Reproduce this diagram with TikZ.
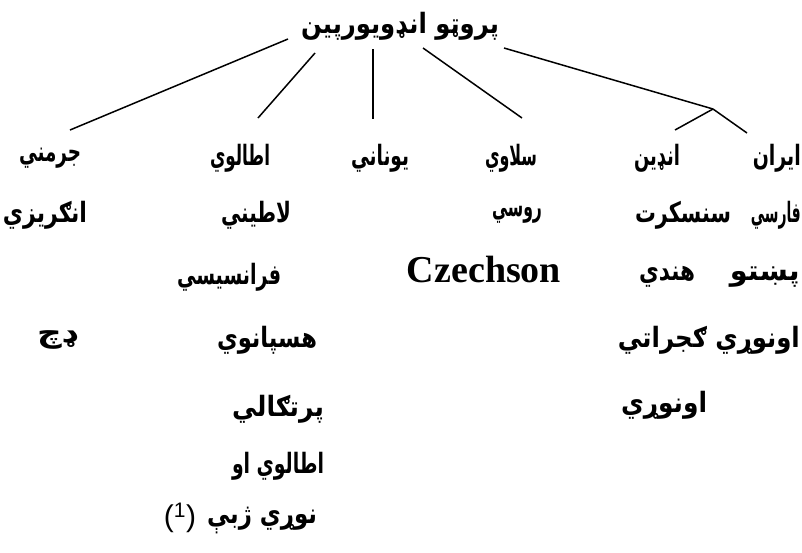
\documentclass[tikz,border=0pt]{standalone}
\usepackage{fontspec}
\usepackage{graphicx}
\TeXXeTstate=1
\newfontfamily\arfont[Script=Arabic]{DejaVu Sans}
\newfontfamily\czfont{Liberation Serif}
\newfontfamily\latfont{Liberation Sans}
\newcommand\arw[2]{\resizebox{#1pt}{\height}{\arfont\bfseries\fontsize{28}{32}\selectfont #2}}
\begin{document}
\begin{tikzpicture}[x=1pt,y=-1pt,
  lbl/.style={inner sep=0pt},
  link/.style={line width=1.5pt}]
\useasboundingbox (0,0) rectangle (802,552);
% title
\node[lbl] (top) at (400,26) {\arw{198}{\beginR پروټو انډويورپين\endR}};
% row 1
\node[lbl,anchor=east] (iran) at (801,158) {\arw{48}{\beginR ايران\endR}};
\node[lbl] (indian) at (657,158) {\arw{46}{\beginR انډين\endR}};
\node[lbl] (slavi) at (511,158) {\arw{52}{\beginR سلاوي\endR}};
\node[lbl] (yunani) at (380,158) {\arw{58}{\beginR يوناني\endR}};
\node[lbl] (italvi) at (240,158) {\arw{60}{\beginR اطالوي\endR}};
\node[lbl] (jarmani) at (50,158) {\arw{62}{\beginR جرمني\endR}};
% row 2
\node[lbl,anchor=east] (farsi) at (801,215) {\arw{50}{\beginR فارسي\endR}};
\node[lbl] (sanskrit) at (683,215) {\arw{96}{\beginR سنسکرت\endR}};
\node[lbl] (rusi) at (517,215) {\arw{50}{\beginR روسي\endR}};
\node[lbl] (latini) at (256,215) {\arw{70}{\beginR لاطيني\endR}};
\node[lbl] (angrizi) at (45,215) {\arw{84}{\beginR انګريزي\endR}};
% row 3
\node[lbl,anchor=east] (pashto) at (800,277) {\arw{70}{\beginR پښتو\endR}};
\node[lbl] (hindi) at (667,277) {\arw{56}{\beginR هندي\endR}};
\node[inner sep=0pt,anchor=base,font=\czfont\bfseries\fontsize{38}{44}\selectfont] (czech) at (484,282) {Czechson};
\node[lbl] (faransisi) at (229,277) {\arw{104}{\beginR فرانسيسي\endR}};
% row 4
\node[lbl,anchor=east] (gujarati) at (800,340) {\arw{182}{\beginR اونوړي ګجراتي\endR}};
\node[lbl] (hispanavi) at (267,340) {\arw{100}{\beginR هسپانوي\endR}};
\node[lbl] (dach) at (57,340) {\arw{40}{\beginR ډچ\endR}};
% row 5
\node[lbl] (onori) at (664,405) {\arw{86}{\beginR اونوړي\endR}};
\node[lbl] (portugali) at (278,409) {\arw{92}{\beginR پرتګالي\endR}};
% row 6
\node[lbl] (italviaw) at (278,466) {\arw{92}{\beginR اطالوي او\endR}};
% row 7
\node[lbl] (norizhbe) at (262,520) {\arw{110}{\beginR نوړي ژبې\endR}};
\node[inner sep=0pt,font=\latfont\fontsize{30}{34}\selectfont] (note) at (180,518) {(\textsuperscript{1})};
% connector end points
\coordinate (t1) at (288,39);
\coordinate (t2) at (315,53);
\coordinate (t3) at (373,49);
\coordinate (t4) at (423,48);
\coordinate (t5) at (504,48);
\coordinate (e1) at (70,130);
\coordinate (e2) at (258,118);
\coordinate (e3) at (373,119);
\coordinate (e4) at (522,118);
\coordinate (br) at (713,109);
\coordinate (e5) at (675,130);
\coordinate (e6) at (747,133);
\draw[link] (t1) -- (e1);
\draw[link] (t2) -- (e2);
\draw[link] (t3) -- (e3);
\draw[link] (t4) -- (e4);
\draw[link] (t5) -- (br);
\draw[link] (br) -- (e5);
\draw[link] (br) -- (e6);
\end{tikzpicture}
\end{document}
